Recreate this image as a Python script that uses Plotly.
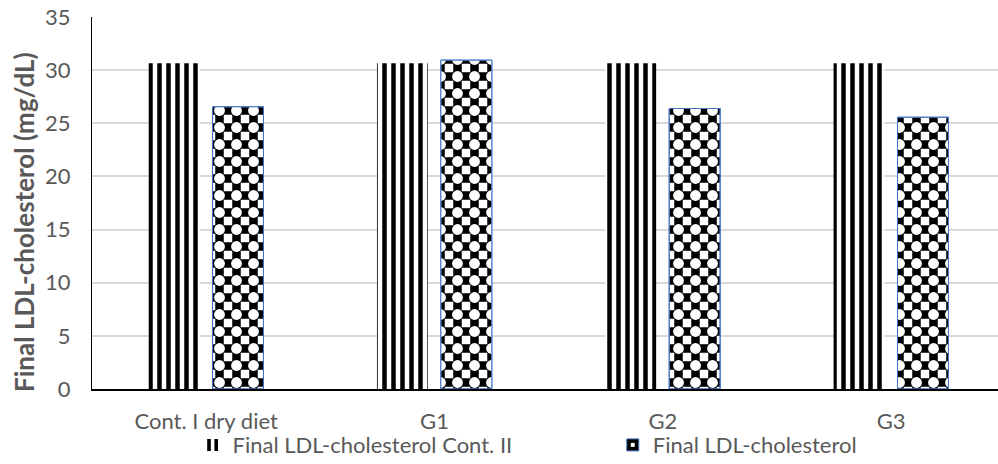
import plotly.graph_objects as go

categories = ["Cont. I dry diet", "G1", "G2", "G3"]
cont2_values = [30.65, 30.65, 30.65, 30.65]
final_values = [26.55, 30.94, 26.39, 25.57]
series_names = ["Final LDL-cholesterol Cont. II", "Final LDL-cholesterol"]
y_ticks = [0, 5, 10, 15, 20, 25, 30, 35]
y_title = "Final LDL-cholesterol (mg/dL)"

FONT = "Lato, 'Liberation Sans', sans-serif"
GREY = "#595959"
BAR_W = 0.223
CELL = 17  # checker tile size (2 cells)

fig = go.Figure()

# vertical stripes
fig.add_trace(go.Bar(
    x=categories, y=cont2_values, name=series_names[0], legend="legend",
    width=BAR_W, offset=-0.252, opacity=1,
    marker=dict(color="white", opacity=1, line=dict(width=0),
                pattern=dict(shape="|", size=9, solidity=0.5, fgopacity=1,
                             fgcolor="black", bgcolor="white")),
))
# checkerboard: black grid base ...
fig.add_trace(go.Bar(
    x=categories, y=final_values, name=series_names[1], legend="legend2",
    width=BAR_W, offset=0.028, opacity=1,
    marker=dict(color="white", opacity=1, line=dict(width=1, color="#4472C4"),
                pattern=dict(shape="+", size=CELL, solidity=0.75, fgopacity=1,
                             fgcolor="black", bgcolor="white")),
))
# ... with white centres over the crossings to form a checker
fig.add_trace(go.Bar(
    x=categories, y=final_values, name=series_names[1], showlegend=False,
    width=BAR_W, offset=0.028, hoverinfo="skip", opacity=1,
    marker=dict(color="rgba(0,0,0,0)", opacity=1, line=dict(width=1, color="#4472C4"),
                pattern=dict(shape=".", size=CELL, solidity=0.32, fgopacity=1,
                             fgcolor="white", bgcolor="rgba(0,0,0,0)")),
))

legend_common = dict(orientation="h", xref="container", yref="container",
                     yanchor="top", y=0.086, xanchor="left",
                     font=dict(size=22, color=GREY), itemwidth=30,
                     bgcolor="rgba(0,0,0,0)")
fig.update_layout(
    width=998, height=464,
    margin=dict(l=92, r=0, t=17, b=75),
    paper_bgcolor="white", plot_bgcolor="white",
    barmode="overlay",
    font=dict(family=FONT, size=22, color=GREY),
    showlegend=True,
    legend=dict(legend_common, x=0.193),
    legend2=dict(legend_common, x=0.614),
    annotations=[dict(
        text="<b>" + y_title + "</b>", textangle=-90,
        xref="paper", yref="paper", x=-0.075, y=0.449,
        xanchor="center", yanchor="middle", showarrow=False,
        font=dict(size=26, color=GREY, family=FONT),
    )],
)
fig.update_xaxes(
    type="category", range=[-0.5, 3.468], automargin=False,
    showline=True, linecolor="#000000", linewidth=1.5,
    showgrid=False, ticks="", ticklabelstandoff=12,
    tickfont=dict(size=22, color=GREY),
)
fig.update_yaxes(
    range=[0, 35], tickvals=y_ticks, ticktext=[str(v) for v in y_ticks],
    showline=True, linecolor="#000000", linewidth=1.2,
    showgrid=True, gridcolor="#d9d9d9", gridwidth=1.5,
    zeroline=False, ticks="", ticklabelstandoff=16, automargin=False,
    tickfont=dict(size=22, color=GREY),
)

fig.write_html("out.html", config={"displayModeBar": False},
               post_script="document.body.style.margin='0';")
